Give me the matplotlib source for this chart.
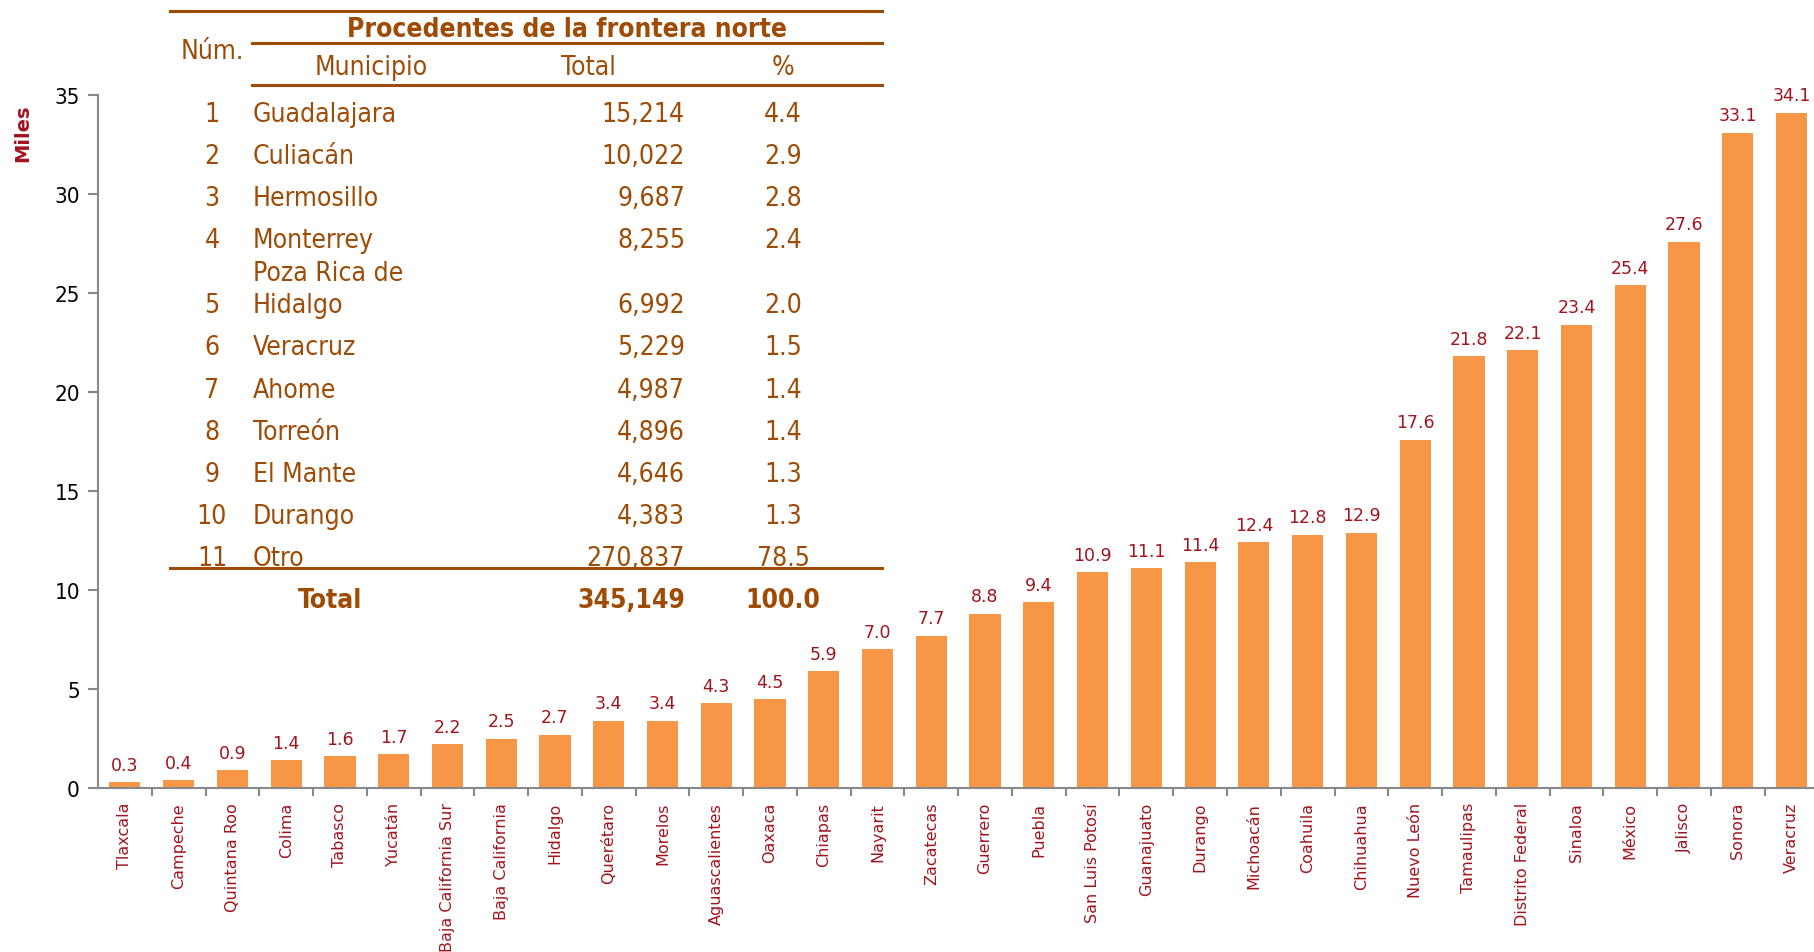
import matplotlib
matplotlib.use("Agg")
import matplotlib.pyplot as plt
from matplotlib.lines import Line2D

estados = ['Tlaxcala', 'Campeche', 'Quintana Roo', 'Colima', 'Tabasco', 'Yucatán',
           'Baja California Sur', 'Baja California', 'Hidalgo', 'Querétaro', 'Morelos',
           'Aguascalientes', 'Oaxaca', 'Chiapas', 'Nayarit', 'Zacatecas', 'Guerrero',
           'Puebla', 'San Luis Potosí', 'Guanajuato', 'Durango', 'Michoacán', 'Coahuila',
           'Chihuahua', 'Nuevo León', 'Tamaulipas', 'Distrito Federal', 'Sinaloa',
           'México', 'Jalisco', 'Sonora', 'Veracruz']
miles = [0.3, 0.4, 0.9, 1.4, 1.6, 1.7, 2.2, 2.5, 2.7, 3.4, 3.4, 4.3, 4.5, 5.9, 7.0, 7.7,
         8.8, 9.4, 10.9, 11.1, 11.4, 12.4, 12.8, 12.9, 17.6, 21.8, 22.1, 23.4, 25.4,
         27.6, 33.1, 34.1]

num = [1, 2, 3, 4, 5, 6, 7, 8, 9, 10, 11]
municipios = ['Guadalajara', 'Culiacán', 'Hermosillo', 'Monterrey', 'Poza Rica de\nHidalgo',
              'Veracruz', 'Ahome', 'Torreón', 'El Mante', 'Durango', 'Otro']
totales = [15214, 10022, 9687, 8255, 6992, 5229, 4987, 4896, 4646, 4383, 270837]
pct = [4.4, 2.9, 2.8, 2.4, 2.0, 1.5, 1.4, 1.4, 1.3, 1.3, 78.5]
total_general = 345149
pct_general = 100.0

W, H = 1814, 953
BROWN = '#9E4B05'
RED = '#A0141E'
ORANGE = '#F79646'
NARROW = dict(family='DejaVu Sans', stretch='condensed')

fig = plt.figure(figsize=(W / 100, H / 100), dpi=100)
ax = fig.add_axes([98 / W, 1 - 789 / H, (1813 - 98) / W, (789 - 96) / H])

x = list(range(len(estados)))
bars = ax.bar(x, miles, width=0.58, color=ORANGE, zorder=2)
for xi, v in zip(x, miles):
    ax.annotate(f'{v:.1f}', (xi, v), xytext=(0, 6), textcoords='offset points',
                ha='center', va='bottom', color=RED, fontsize=12.5, clip_on=False)

ax.set_xlim(-0.5, 31.4)
ax.set_ylim(0, 35)
ax.set_yticks(range(0, 36, 5))
ax.set_yticklabels([str(t) for t in range(0, 36, 5)], fontsize=16, **NARROW)
ax.set_xticks(x)
ax.set_xticklabels(estados, rotation=90, color=RED, fontsize=11.5)
ax.set_xticks([i + 0.5 for i in x[:-1]], minor=True)
ax.tick_params(axis='x', which='major', length=0, pad=10)
ax.tick_params(axis='x', which='minor', length=6, color='#888888', width=1.5)
ax.tick_params(axis='y', length=7, color='#888888', width=1.5, pad=6)
for s in ['top', 'right']:
    ax.spines[s].set_visible(False)
for s in ['left', 'bottom']:
    ax.spines[s].set_color('#888888')
    ax.spines[s].set_linewidth(1.5)

fig.text(23 / W, 1 - 133 / H, 'Miles', rotation=90, ha='center', va='center',
         fontsize=14, fontweight='bold', color=RED)


# tabla de municipios
def ftext(px, py, s, **kw):
    fig.text(px / W, 1 - py / H, s, color=BROWN, **NARROW, **kw)


def hline(x0, x1, py):
    fig.add_artist(Line2D([x0 / W, x1 / W], [1 - py / H, 1 - py / H],
                          color=BROWN, linewidth=2.2, transform=fig.transFigure))


hline(170, 882, 12)
hline(252, 882, 44)
hline(252, 882, 86)
hline(170, 882, 569)

ftext(567, 30, 'Procedentes de la frontera norte', ha='center', va='center',
      fontsize=19, fontweight='bold')
ftext(212, 52, 'Núm.', ha='center', va='center', fontsize=19)
ftext(371, 68, 'Municipio', ha='center', va='center', fontsize=19)
ftext(588, 68, 'Total', ha='center', va='center', fontsize=19)
ftext(783, 68, '%', ha='center', va='center', fontsize=19)

y = 115
for n, m, t, p in zip(num, municipios, totales, pct):
    lines = m.split('\n')
    y += 23 * (len(lines) - 1)
    for k, ln in enumerate(lines):
        ftext(253, y - 32 * (len(lines) - 1 - k), ln, ha='left', va='center', fontsize=19)
    ftext(212, y, str(n), ha='center', va='center', fontsize=19)
    ftext(685, y, f'{t:,}', ha='right', va='center', fontsize=19)
    ftext(783, y, f'{p:.1f}', ha='center', va='center', fontsize=19)
    y += 42.1

ftext(330, y, 'Total', ha='center', va='center', fontsize=19, fontweight='bold')
ftext(685, y, f'{total_general:,}', ha='right', va='center', fontsize=19, fontweight='bold')
ftext(783, y, f'{pct_general:.1f}', ha='center', va='center', fontsize=19, fontweight='bold')

fig.savefig('out.png', dpi=100)
